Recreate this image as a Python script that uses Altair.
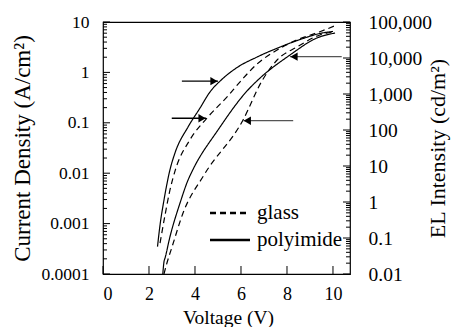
import altair as alt
import pandas as pd

FONT = "Liberation Serif, Times New Roman, Times, serif"

# ---- data ----
# Current density (left axis)
V_J_POLY = [2.37, 2.48, 2.65, 2.91, 3.13, 3.70, 4.22, 4.65, 5.13, 5.83, 6.70, 7.70, 8.70, 9.43, 10.0]
J_POLY = [3.5e-4, 9.4e-4, 2.9e-3, 0.0116, 0.0252, 0.083, 0.197, 0.408, 0.70, 1.25, 2.02, 3.19, 4.71, 5.92, 6.5]
V_J_GLASS = [2.48, 2.70, 2.91, 3.13, 3.78, 4.52, 5.43, 5.96, 6.70, 7.57, 8.43, 9.43, 10.16]
J_GLASS = [4.1e-4, 1.5e-3, 4.6e-3, 0.011, 0.046, 0.124, 0.34, 0.65, 1.47, 2.78, 4.40, 6.4, 8.7]

# EL intensity (right axis)
V_L_POLY = [2.60, 2.65, 2.70, 2.91, 3.35, 3.70, 3.90, 5.00, 6.30, 6.83, 8.13, 9.30, 10.09]
L_POLY = [0.01, 0.0215, 0.028, 0.107, 0.94, 4.1, 7.7, 100, 1290, 2780, 12100, 35900, 49500]
V_L_GLASS = [2.65, 2.78, 3.00, 3.48, 4.39, 6.09, 6.91, 7.57, 8.43, 9.43, 10.09]
L_GLASS = [0.01, 0.0202, 0.056, 0.494, 5.6, 190, 2300, 8800, 20200, 43500, 53800]

# arrows (on left-axis scale)
ARROW_V_TAIL = [3.43, 2.99, 8.27, 10.38]
ARROW_V_HEAD = [5.0, 4.48, 6.10, 8.13]
ARROW_J = [0.67, 0.123, 0.11, 2.05]
ARROW_DIR = ["right", "right", "left", "left"]

X_TICKS = [0, 2, 4, 6, 8, 10]
LEFT_LABELS = [1e-4, 1e-3, 1e-2, 1e-1, 1, 10]
RIGHT_LABELS = [0.01, 0.1, 1, 10, 100, 1000, 10000, 100000]
SUBSTRATES = ["glass", "polyimide"]

# ---- tables ----
def series(v, y, name, col):
    return pd.DataFrame({"V": v, col: y, "substrate": name, "idx": list(range(len(v)))})

j_df = pd.concat([series(V_J_GLASS, J_GLASS, "glass", "J"), series(V_J_POLY, J_POLY, "polyimide", "J")])
l_df = pd.concat([series(V_L_GLASS, L_GLASS, "glass", "L"), series(V_L_POLY, L_POLY, "polyimide", "L")])
arrow_df = pd.DataFrame({"v0": ARROW_V_TAIL, "v1": ARROW_V_HEAD, "j": ARROW_J, "dir": ARROW_DIR})
legend_df = pd.DataFrame({"substrate": SUBSTRATES})

def decade_ticks(lo, hi):
    major, minor = [], []
    for d in range(lo, hi):
        for m in range(1, 10):
            (major if m == 1 else minor).append(m * 10 ** d)
    major.append(10 ** hi)
    return major, minor

lmaj, lmin = decade_ticks(-4, 1)
rmaj, rmin = decade_ticks(-2, 5)

W, H = 247, 252

x_scale = alt.Scale(domain=[0, 10.74], nice=False, zero=False)
yl_scale = alt.Scale(type="log", domain=[1e-4, 10], nice=False)
yr_scale = alt.Scale(type="log", domain=[0.01, 100000], nice=False)
dash_scale = alt.Scale(domain=SUBSTRATES, range=[[6, 4], [1, 0]])

common_axis = dict(ticks=False, tickSize=0, domain=False, grid=False,
                   labelFont=FONT, labelColor="black", titleFont=FONT,
                   titleColor="black", titleFontWeight="normal")

x_axis = alt.Axis(values=X_TICKS, labelPadding=11, labelFontSize=18, title="Voltage (V)",
                  titleFontSize=19.5, titleX=125, titleY=43, titleBaseline="middle",
                  titleAlign="center", **common_axis)
left_axis = alt.Axis(values=LEFT_LABELS, format="~g", labelPadding=14, labelFontSize=17.5,
                     title="Current Density (A/cm²)", titleFontSize=23, titleAngle=270,
                     titleX=-81, titleY=H / 2, titleBaseline="middle", titleAlign="center",
                     **common_axis)
right_axis = alt.Axis(values=RIGHT_LABELS, format=",~g", orient="right", labelPadding=18,
                      labelFontSize=19.5, title="EL Intensity (cd/m²)", titleFontSize=22,
                      titleAngle=270, titleX=87, titleY=H / 2, titleBaseline="middle",
                      titleAlign="center", **common_axis)

X = lambda f: alt.X(f, scale=x_scale, axis=x_axis)

j_lines = alt.Chart(j_df).mark_line(color="black", strokeWidth=1.2, interpolate="monotone").encode(
    x=X("V:Q"),
    y=alt.Y("J:Q", scale=yl_scale, axis=left_axis),
    strokeDash=alt.StrokeDash("substrate:N", scale=dash_scale, legend=None),
    order="idx:Q",
)
l_lines = alt.Chart(l_df).mark_line(color="black", strokeWidth=1.2, interpolate="monotone").encode(
    x=X("V:Q"),
    y=alt.Y("L:Q", scale=yr_scale, axis=right_axis),
    strokeDash=alt.StrokeDash("substrate:N", scale=dash_scale, legend=None),
    order="idx:Q",
)

arrow_lines = alt.Chart(arrow_df).mark_rule(strokeWidth=1.3).encode(
    x=X("v0:Q"),
    x2="v1:Q",
    y=alt.Y("j:Q", scale=yl_scale, axis=None),
    color=alt.Color("dir:N", scale=alt.Scale(domain=["right", "left"], range=["black", "#555555"]), legend=None),
)
head_r = alt.Chart(arrow_df).transform_filter("datum.dir == 'right'").mark_point(
    shape="triangle-right", filled=True, size=70, color="black", opacity=1, xOffset=-4
).encode(x=X("v1:Q"), y=alt.Y("j:Q", scale=yl_scale, axis=None))
head_l = alt.Chart(arrow_df).transform_filter("datum.dir == 'left'").mark_point(
    shape="triangle-left", filled=True, size=70, color="black", opacity=1, xOffset=4
).encode(x=X("v1:Q"), y=alt.Y("j:Q", scale=yl_scale, axis=None))

lmaj_ticks = alt.Chart(pd.DataFrame({"t": lmaj})).mark_rule(color="black", strokeWidth=1).encode(
    y=alt.Y("t:Q", scale=yl_scale, axis=None), x=alt.value(0), x2=alt.value(7))
lmin_ticks = alt.Chart(pd.DataFrame({"t": lmin})).mark_rule(color="black", strokeWidth=1).encode(
    y=alt.Y("t:Q", scale=yl_scale, axis=None), x=alt.value(0), x2=alt.value(4))
rmaj_ticks = alt.Chart(pd.DataFrame({"t": rmaj})).mark_rule(color="black", strokeWidth=1).encode(
    y=alt.Y("t:Q", scale=yr_scale, axis=None), x=alt.value(W), x2=alt.value(W - 7))
rmin_ticks = alt.Chart(pd.DataFrame({"t": rmin})).mark_rule(color="black", strokeWidth=1).encode(
    y=alt.Y("t:Q", scale=yr_scale, axis=None), x=alt.value(W), x2=alt.value(W - 4))
x_ticks = alt.Chart(pd.DataFrame({"t": X_TICKS})).mark_rule(color="black", strokeWidth=1).encode(
    x=X("t:Q"), y=alt.value(H), y2=alt.value(H - 8))

# legend drawn inside the plot
leg_y = alt.Y("substrate:N", scale=alt.Scale(type="point", domain=SUBSTRATES, range=[191, 218], padding=0), axis=None)
leg_lines = alt.Chart(legend_df).mark_rule(color="black", strokeWidth=2.5).encode(
    y=leg_y, x=alt.value(107), x2=alt.value(147),
    strokeDash=alt.StrokeDash("substrate:N", scale=dash_scale, legend=None),
)
leg_text = alt.Chart(legend_df).mark_text(align="left", baseline="middle", font=FONT, fontSize=21,
                                          color="black").encode(
    y=leg_y, x=alt.value(154), text="substrate:N")

chart = alt.layer(
    j_lines, l_lines, arrow_lines, head_r, head_l,
    lmaj_ticks, lmin_ticks, rmaj_ticks, rmin_ticks, x_ticks, leg_lines, leg_text,
).resolve_scale(y="independent").properties(
    width=W, height=H,
    padding={"left": 95, "top": 14, "right": 101, "bottom": 53},
    autosize=alt.AutoSizeParams(type="none"),
).configure(font=FONT, background="white").configure_view(stroke="black", strokeWidth=1.2)

chart.save("out.html", embed_options={"renderer": "svg", "actions": False})
